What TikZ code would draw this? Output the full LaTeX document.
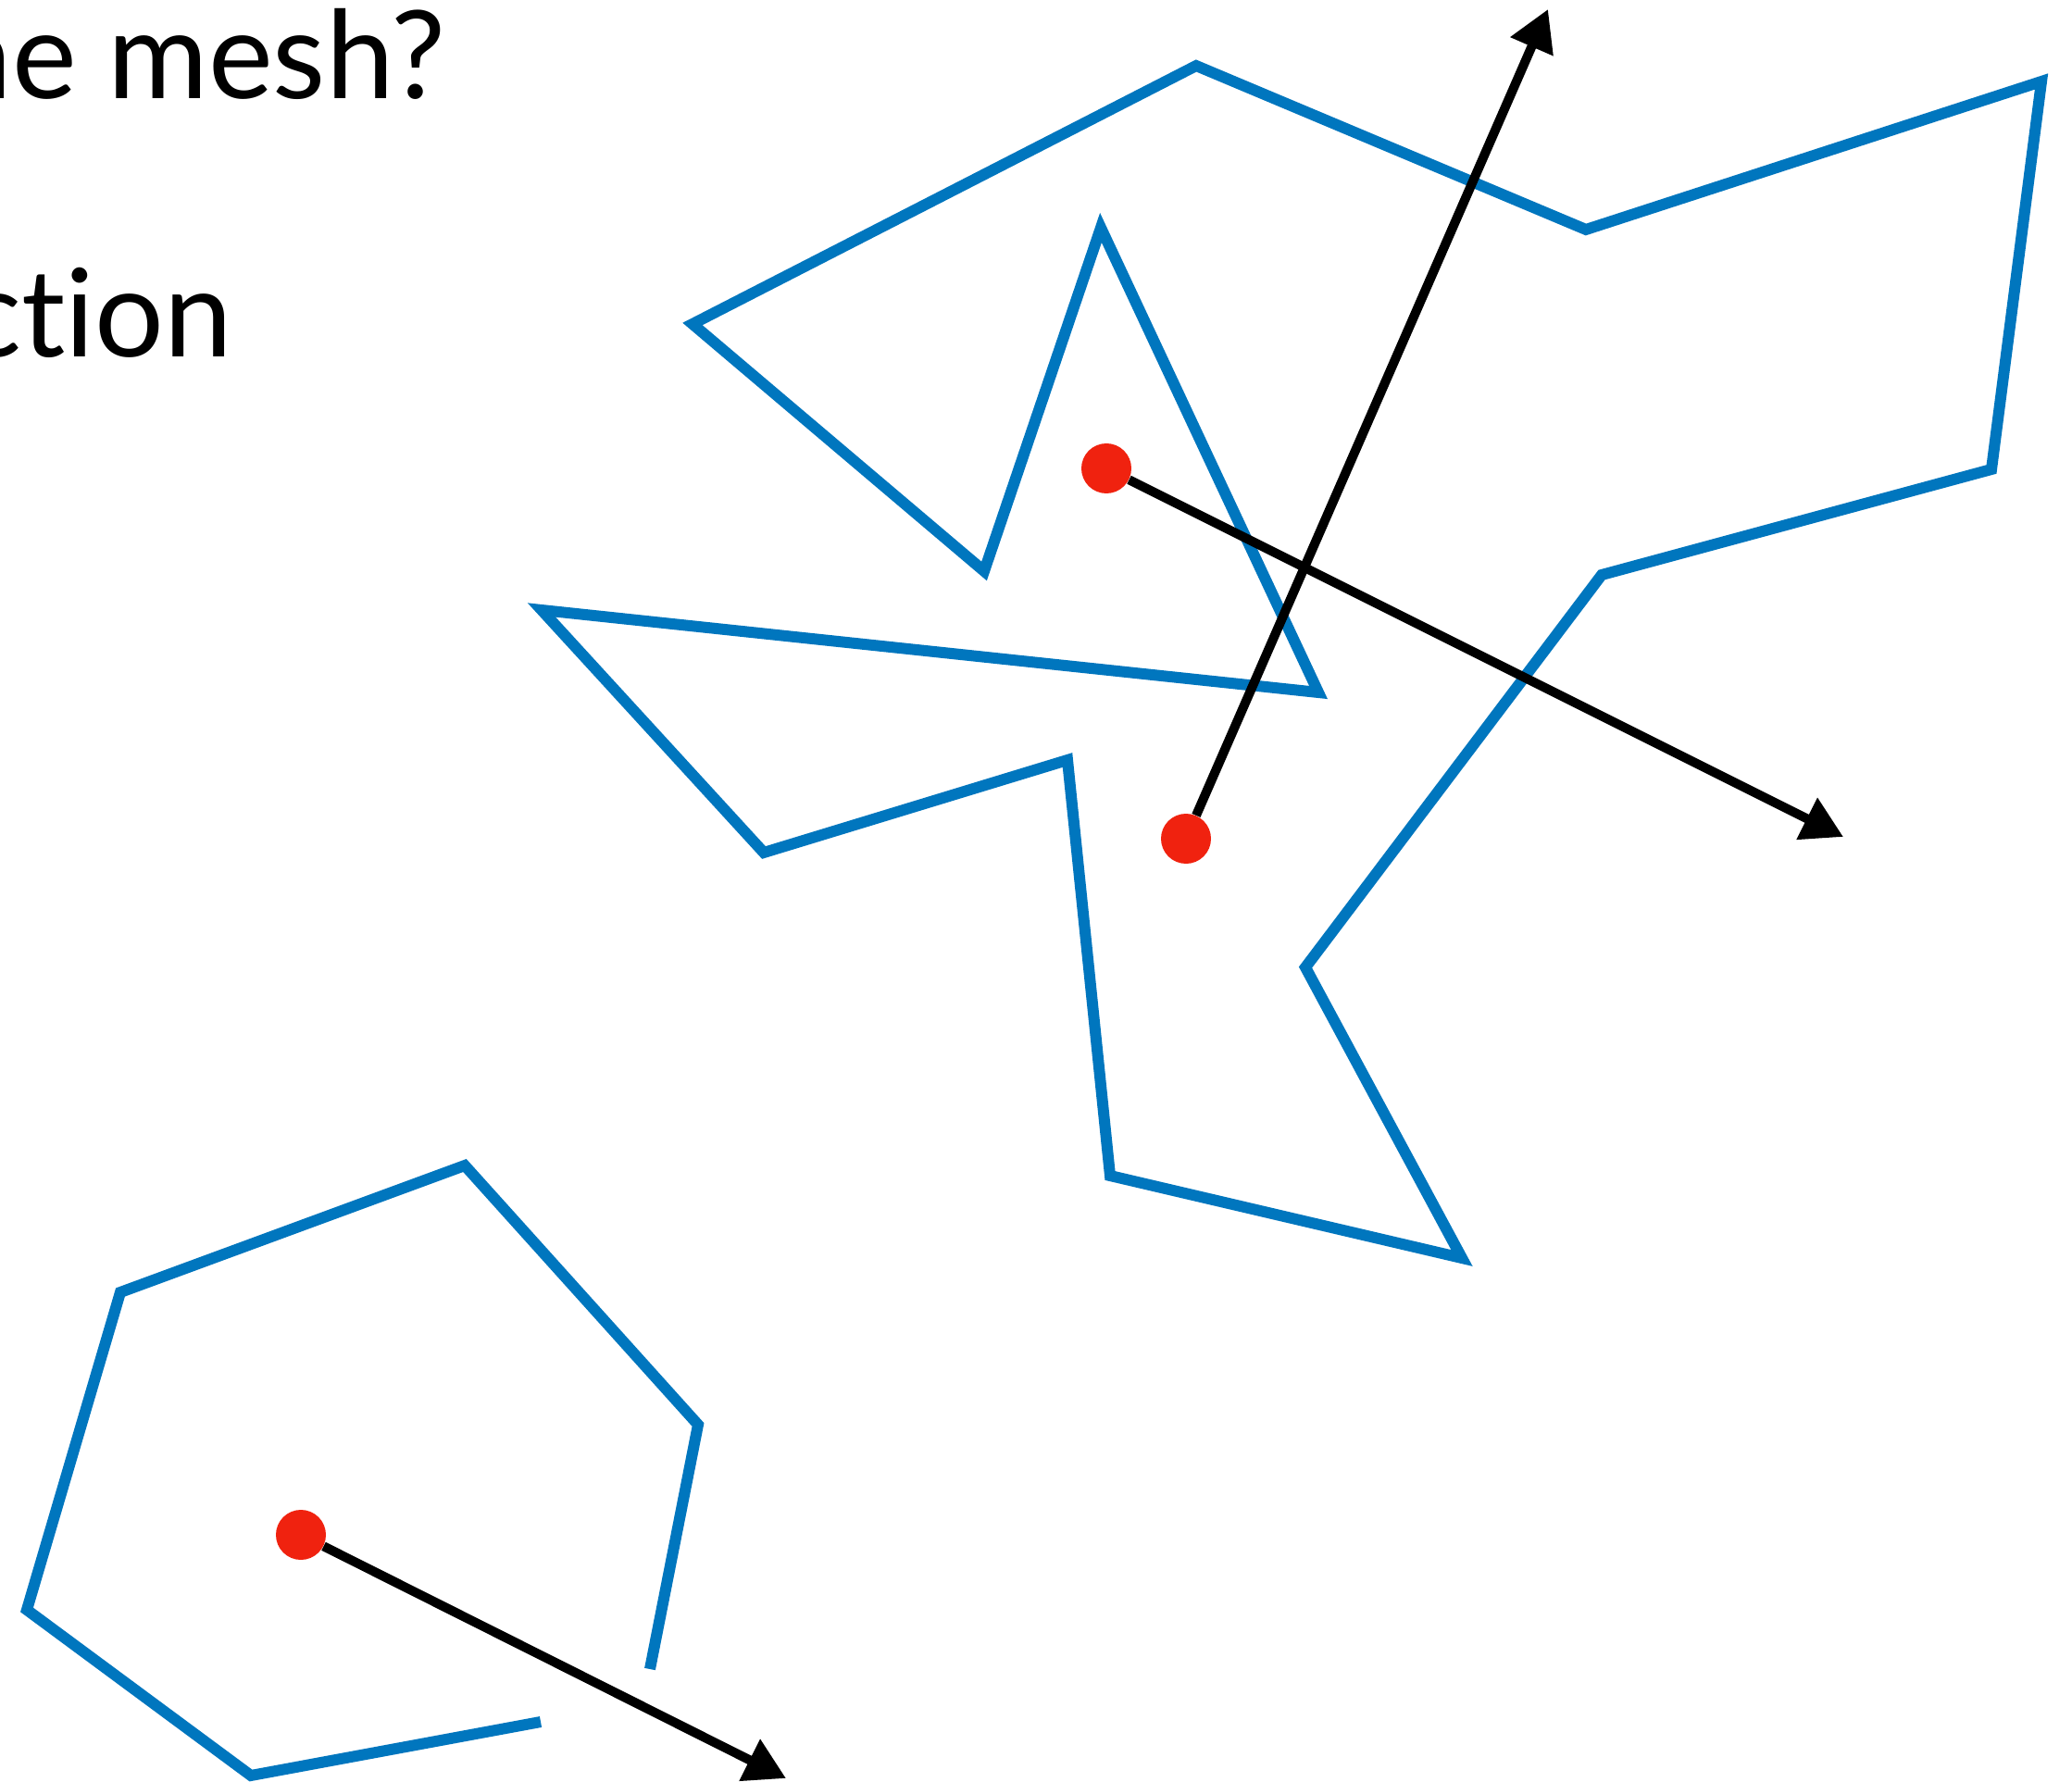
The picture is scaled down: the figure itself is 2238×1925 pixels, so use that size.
\documentclass[tikz,border=0pt]{standalone}
\usepackage{fontspec}
\setmainfont{Lato}[Ligatures={NoCommon}]
\usetikzlibrary{arrows.meta}
\definecolor{meshblue}{RGB}{0,118,190}
\definecolor{dotred}{RGB}{240,34,15}
\tikzset{
  edge/.style={draw=meshblue,line width=6pt,line join=miter,miter limit=20},
  ray/.style={draw=black,line width=5pt,-{Triangle[length=22pt,width=24pt]}},
  origin/.style={circle,fill=dotred,minimum size=27pt,inner sep=0pt},
  label/.style={anchor=base east,inner sep=0pt,font=\fontsize{66pt}{78pt}\selectfont}
}
\begin{document}
\begin{tikzpicture}[x=0.5pt,y=-0.5pt]
\useasboundingbox (0,0) rectangle (2238,1925);
\clip (0,0) rectangle (2238,1925);
\fill[white] (0,0) rectangle (2238,1925);
% text
\node[label] (q1) at (482,107) {the mesh?};
\node[label] (q2) at (251,386) {direction};
% big polygon
\coordinate (a1) at (1292,71);
\coordinate (a2) at (1713,248);
\coordinate (a3) at (2205,88);
\coordinate (a4) at (2151,507);
\coordinate (a5) at (1730,621);
\coordinate (a6) at (1410,1045);
\coordinate (a7) at (1579,1359);
\coordinate (a8) at (1199,1270);
\coordinate (a9) at (1153,821);
\coordinate (a10) at (825,921);
\coordinate (a11) at (585,659);
\coordinate (a12) at (1424,748);
\coordinate (a13) at (1189,246);
\coordinate (a14) at (1063,617);
\coordinate (a15) at (748,350);
\draw[edge] (a1) -- (a2) -- (a3) -- (a4) -- (a5) -- (a6) -- (a7) -- (a8) -- (a9) -- (a10) -- (a11) -- (a12) -- (a13) -- (a14) -- (a15) -- cycle;
% small open polyline
\coordinate (b1) at (702,1803);
\coordinate (b2) at (754,1539);
\coordinate (b3) at (502,1259);
\coordinate (b4) at (130,1396);
\coordinate (b5) at (29,1739);
\coordinate (b6) at (271,1918);
\coordinate (b7) at (584,1860);
\draw[edge] (b1) -- (b2) -- (b3) -- (b4) -- (b5) -- (b6) -- (b7);
% ray tips
\coordinate (t1) at (1991,904);
\coordinate (t2) at (1672,10);
\coordinate (t3) at (849,1921);
% ray origins
\node[origin] (d1) at (1195,506) {};
\node[origin] (d2) at (1281,906) {};
\node[origin] (d3) at (325,1658) {};
\draw[ray] (d1) -- (t1);
\draw[ray] (d2) -- (t2);
\draw[ray] (d3) -- (t3);
\end{tikzpicture}
\end{document}
